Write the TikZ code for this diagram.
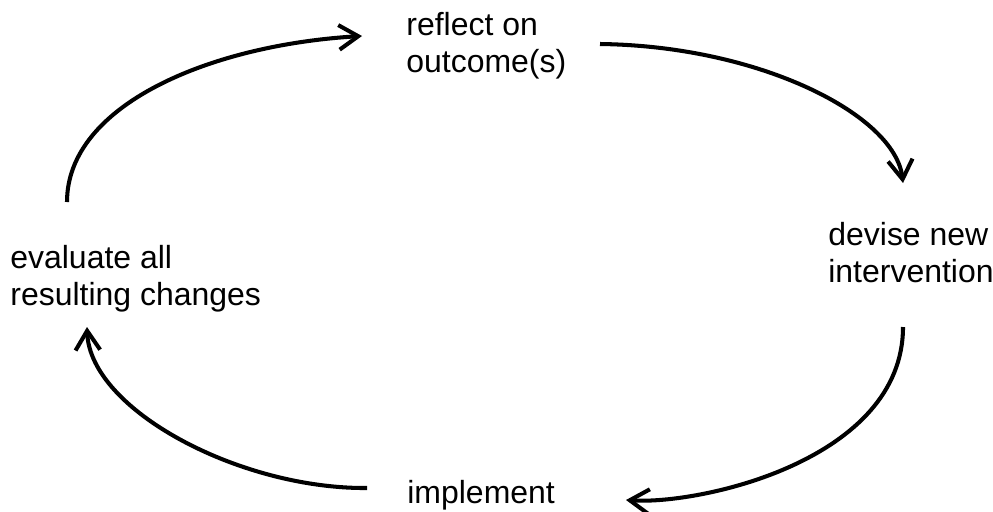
\documentclass[tikz,border=0pt]{standalone}
\usepackage{fontspec}
\setmainfont{Liberation Sans}
\usetikzlibrary{arrows.meta}
\begin{document}
\begin{tikzpicture}[x=0.02cm,y=-0.02cm]
        \tikzstyle{every node}= [inner sep=0pt,anchor=base west,align=left,
          font=\fontsize{18.2pt}{20.6pt}\selectfont];
        \tikzstyle{cycle}= [line width=2.3pt,-{Straight Barb[length=11pt,width=14pt]}];
        \useasboundingbox (0,0) rectangle (993,511);

        % base is the last line of each text
        \node(reflect) at (406,72) {reflect on\\outcome(s)};
        \node(devise) at (828,282) {devise new\\intervention};
        \node(implement) at (407,503) {implement};
        \node(evaluate) at (10,305) {evaluate all\\resulting changes};

        % ends of the four arcs
        \coordinate(e1) at (67,202);  \coordinate(r1) at (362,36);
        \coordinate(r2) at (600,44);  \coordinate(d2) at (903,183);
        \coordinate(d3) at (903,327); \coordinate(i3) at (626,500);
        \coordinate(i4) at (367,488); \coordinate(e4) at (87,327);

        \draw[cycle] (e1) .. controls (67,105) and (210,45) .. (r1);
        \draw[cycle] (r2) .. controls (760,46) and (895,115) .. (d2);
        \draw[cycle] (d3) .. controls (903,460) and (700,505) .. (i3);
        \draw[cycle] (i4) .. controls (240,489) and (90,410) .. (e4);
      \end{tikzpicture}
\end{document}
